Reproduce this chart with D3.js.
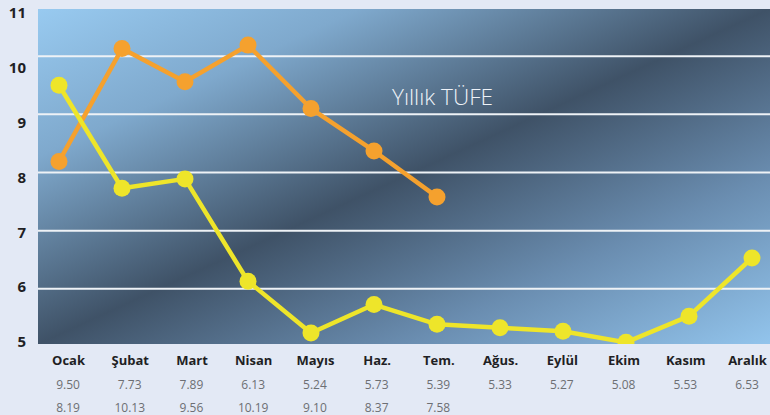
<!DOCTYPE html>
<html>
<head>
<meta charset="utf-8">
<script src="https://cdn.jsdelivr.net/npm/d3@7"></script>
<style>
  html, body { margin: 0; padding: 0; background: #e3e9f5; }
  svg { display: block; }
</style>
</head>
<body>
<div id="chart"></div>
<script>
// Monthly CPI (Yıllık TÜFE) - two years
const months = ["Ocak", "Şubat", "Mart", "Nisan", "Mayıs", "Haz.", "Tem.", "Ağus.", "Eylül", "Ekim", "Kasım", "Aralık"];
const seriesYellow = [9.50, 7.73, 7.89, 6.13, 5.24, 5.73, 5.39, 5.33, 5.27, 5.08, 5.53, 6.53];
const seriesOrange = [8.19, 10.13, 9.56, 10.19, 9.10, 8.37, 7.58];
const yTicks = [5, 6, 7, 8, 9, 10, 11];
const gridTicks = [6, 7, 8, 9, 10];

const width = 770;
const height = 415;
const plot = { left: 38, top: 9, right: 770, bottom: 344 };

const svg = d3.select("#chart")
    .append("svg")
    .attr("width", width)
    .attr("height", height)
    .attr("viewBox", [0, 0, width, height]);

// Scales
const x = d3.scalePoint()
    .domain(months)
    .range([59, 752]);

const xLabel = d3.scalePoint()
    .domain(months)
    .range([68, 747]);

const y = d3.scaleLinear()
    .domain([5, 11])
    .range([347, -2]);

// tick labels sit a bit lower than the grid, spread over the full height
const yLabel = d3.scaleLinear()
    .domain([5, 11])
    .range([342, 13]);

// Background gradient (light - dark band - light, diagonal)
const defs = svg.append("defs");
const grad = defs.append("linearGradient")
    .attr("id", "bg")
    .attr("gradientUnits", "userSpaceOnUse")
    .attr("x1", 278).attr("y1", -101)
    .attr("x2", 532).attr("y2", 453);
[
    [0, "#98caf0"],
    [0.22, "#7fa9cd"],
    [0.5, "#3f5267"],
    [0.75, "#6a8db0"],
    [1, "#92c4ec"]
].forEach(([o, c]) => grad.append("stop").attr("offset", o).attr("stop-color", c));

defs.append("clipPath").attr("id", "clip")
    .append("rect")
    .attr("x", plot.left).attr("y", plot.top)
    .attr("width", plot.right - plot.left)
    .attr("height", plot.bottom - plot.top);

svg.append("rect")
    .attr("x", plot.left).attr("y", plot.top)
    .attr("width", plot.right - plot.left)
    .attr("height", plot.bottom - plot.top)
    .attr("fill", "url(#bg)");

// Grid lines
svg.append("g")
    .selectAll("line")
    .data(gridTicks)
    .join("line")
    .attr("x1", plot.left)
    .attr("x2", plot.right)
    .attr("y1", d => y(d))
    .attr("y2", d => y(d))
    .attr("stroke", "#eef2f6")
    .attr("stroke-width", 2);

// Y axis labels
const yAxis = d3.axisLeft(yLabel)
    .tickValues(yTicks)
    .tickFormat(d3.format("d"))
    .tickSize(0)
    .tickPadding(0);
svg.append("g")
    .attr("transform", "translate(26,0)")
    .call(yAxis)
    .call(g => g.select(".domain").remove())
    .selectAll("text")
    .attr("font-family", "'Open Sans', sans-serif")
    .attr("font-size", 15)
    .attr("font-weight", "bold")
    .attr("fill", "#1f1f24");

// Title inside the plot
svg.append("text")
    .attr("x", 392)
    .attr("y", 105)
    .attr("font-family", "'Open Sans', sans-serif")
    .attr("font-weight", 300)
    .attr("font-size", 22)
    .attr("textLength", 101)
    .attr("lengthAdjust", "spacingAndGlyphs")
    .attr("fill", "#eef2f8")
    .text("Yıllık TÜFE");

// Lines + dots
const line = d3.line()
    .x((d, i) => x(months[i]))
    .y(d => y(d));

const plotG = svg.append("g").attr("clip-path", "url(#clip)");

function drawSeries(values, color) {
    plotG.append("path")
        .datum(values)
        .attr("d", line)
        .attr("fill", "none")
        .attr("stroke", color)
        .attr("stroke-width", 4.5)
        .attr("stroke-linejoin", "round");

    plotG.append("g")
        .selectAll("circle")
        .data(values)
        .join("circle")
        .attr("cx", (d, i) => x(months[i]))
        .attr("cy", d => y(d))
        .attr("r", 8.5)
        .attr("fill", color);
}

drawSeries(seriesOrange, "#f5a12e");
drawSeries(seriesYellow, "#eee52a");

// Month labels and value table
const xAxis = d3.axisBottom(xLabel).tickSize(0).tickPadding(0);
svg.append("g")
    .attr("transform", "translate(0,356)")
    .call(xAxis)
    .call(g => g.select(".domain").remove())
    .selectAll("text")
    .attr("font-family", "'Open Sans', sans-serif")
    .attr("font-size", 13)
    .attr("font-weight", "bold")
    .attr("fill", "#1f1f24");

function valueRow(values, yPos) {
    svg.append("g")
        .selectAll("text")
        .data(values)
        .join("text")
        .attr("x", (d, i) => xLabel(months[i]))
        .attr("y", yPos)
        .attr("text-anchor", "middle")
        .attr("font-family", "'Open Sans', sans-serif")
        .attr("font-size", 12)
        .attr("fill", "#6d6f73")
        .text(d => d.toFixed(2));
}

valueRow(seriesYellow, 389);
valueRow(seriesOrange, 412);
</script>
</body>
</html>
